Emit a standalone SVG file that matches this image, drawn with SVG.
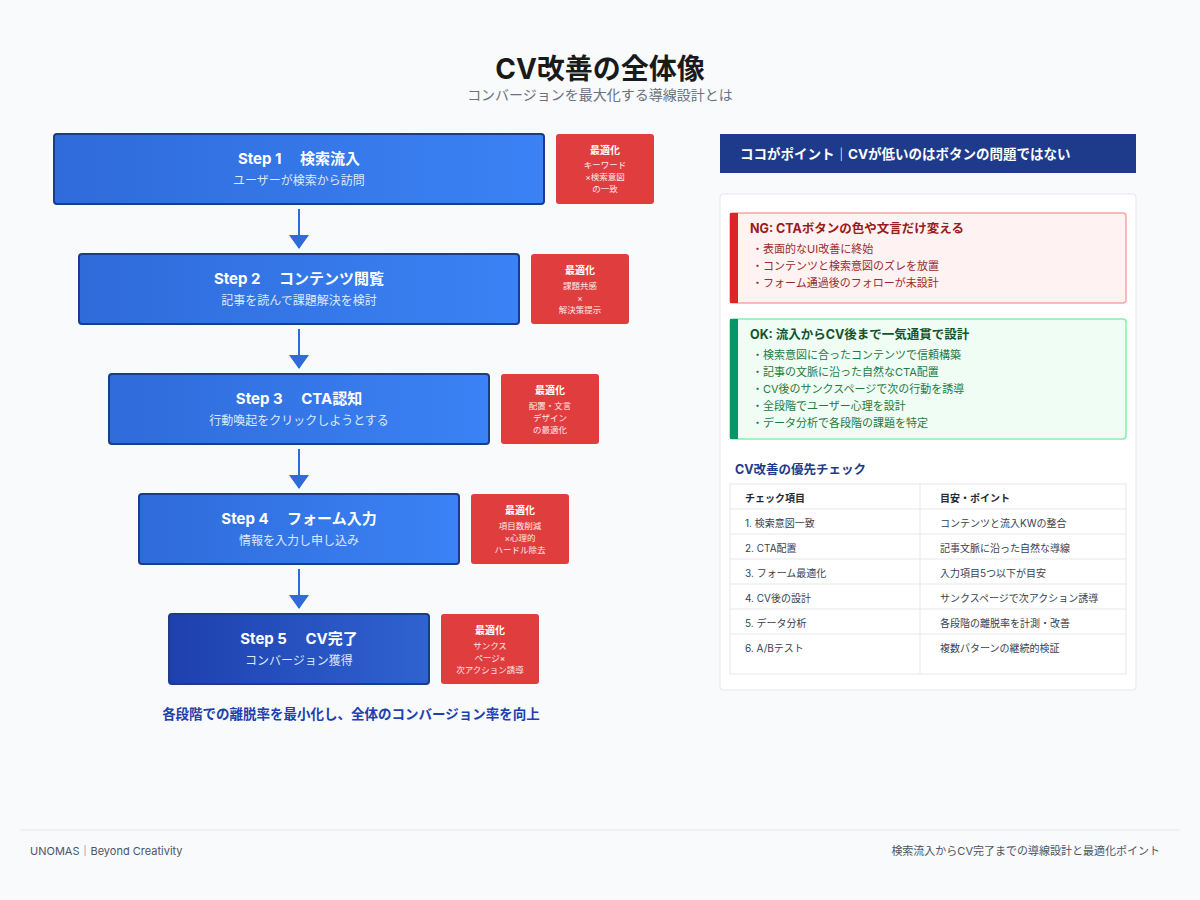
<svg xmlns="http://www.w3.org/2000/svg" width="1200" height="900" viewBox="0 0 1200 900">
<style>
text{font-family:"Inter","Noto Sans CJK JP",sans-serif}
.st{fill:url(#g);stroke:#1e3a8a;stroke-width:2}
.st5{fill:url(#g5);stroke:#1e3a8a;stroke-width:2}
.t1{font-size:15px;font-weight:700;fill:#fff;text-anchor:middle}
.t2{font-size:12px;fill:#dbeafe;text-anchor:middle}
.rd{fill:#e03e3e}
.r1{font-size:10px;font-weight:700;fill:#fff;text-anchor:middle}
.r2{font-size:8.5px;fill:#fde8e8;text-anchor:middle}
.ng{font-size:11px;fill:#9b2c2c}
.ok{font-size:11px;fill:#1f7a44}
.tb{font-size:10px;fill:#374151}
.th{font-size:10px;font-weight:700;fill:#1f2937}
</style>
<defs>
<linearGradient id="g" x1="0" y1="0" x2="1" y2="0"><stop offset="0" stop-color="#2f6bd9"/><stop offset="1" stop-color="#3b82f6"/></linearGradient>
<linearGradient id="g5" x1="0" y1="0" x2="1" y2="0"><stop offset="0" stop-color="#1e40af"/><stop offset="1" stop-color="#2f63d0"/></linearGradient>
<marker id="ar" markerWidth="14" markerHeight="20" refX="13" refY="10" orient="auto" markerUnits="userSpaceOnUse"><path d="M0,0 L14,10 L0,20 z" fill="#2f6bd9"/></marker>
</defs>
<rect width="1200" height="900" fill="#f8fafc"/>
<text x="600" y="79" font-size="28" font-weight="700" fill="#1a1a1a" text-anchor="middle">CV改善の全体像</text>
<text x="600" y="100" font-size="14" fill="#6b7280" text-anchor="middle">コンバージョンを最大化する導線設計とは</text>
<g id="connectors" stroke="#2f6bd9" stroke-width="2" marker-end="url(#ar)">
<line x1="299" y1="209" x2="299" y2="248"/>
<line x1="299" y1="329" x2="299" y2="368"/>
<line x1="299" y1="449" x2="299" y2="488"/>
<line x1="299" y1="569" x2="299" y2="608"/>
</g>
<g id="step1"><rect class="st" x="54" y="134" width="490" height="70" rx="3"/><text class="t1" x="299" y="164">Step 1　 検索流入</text><text class="t2" x="299" y="185">ユーザーが検索から訪問</text></g>
<g id="opt1"><rect class="rd" x="556" y="134" width="98" height="70" rx="3"/><text class="r1" x="605" y="154">最適化</text><text class="r2" x="605" y="168">キーワード</text><text class="r2" x="605" y="180">×検索意図</text><text class="r2" x="605" y="192">の一致</text></g>
<g id="step2"><rect class="st" x="79" y="254" width="440" height="70" rx="3"/><text class="t1" x="299" y="284">Step 2　 コンテンツ閲覧</text><text class="t2" x="299" y="305">記事を読んで課題解決を検討</text></g>
<g id="opt2"><rect class="rd" x="531" y="254" width="98" height="70" rx="3"/><text class="r1" x="580" y="274">最適化</text><text class="r2" x="580" y="289">課題共感</text><text class="r2" x="580" y="301">×</text><text class="r2" x="580" y="313">解決策提示</text></g>
<g id="step3"><rect class="st" x="109" y="374" width="380" height="70" rx="3"/><text class="t1" x="299" y="404">Step 3　 CTA認知</text><text class="t2" x="299" y="425">行動喚起をクリックしようとする</text></g>
<g id="opt3"><rect class="rd" x="501" y="374" width="98" height="70" rx="3"/><text class="r1" x="550" y="394">最適化</text><text class="r2" x="550" y="409">配置・文言</text><text class="r2" x="550" y="421">デザイン</text><text class="r2" x="550" y="433">の最適化</text></g>
<g id="step4"><rect class="st" x="139" y="494" width="320" height="70" rx="3"/><text class="t1" x="299" y="524">Step 4　 フォーム入力</text><text class="t2" x="299" y="545">情報を入力し申し込み</text></g>
<g id="opt4"><rect class="rd" x="471" y="494" width="98" height="70" rx="3"/><text class="r1" x="520" y="514">最適化</text><text class="r2" x="520" y="529">項目数削減</text><text class="r2" x="520" y="541">×心理的</text><text class="r2" x="520" y="553">ハードル除去</text></g>
<g id="step5"><rect class="st5" x="169" y="614" width="260" height="70" rx="3"/><text class="t1" x="299" y="644">Step 5　 CV完了</text><text class="t2" x="299" y="665">コンバージョン獲得</text></g>
<g id="opt5"><rect class="rd" x="441" y="614" width="98" height="70" rx="3"/><text class="r1" x="490" y="634">最適化</text><text class="r2" x="490" y="649">サンクス</text><text class="r2" x="490" y="661">ページ×</text><text class="r2" x="490" y="673">次アクション誘導</text></g>
<text x="351" y="719" font-size="13.5" font-weight="700" fill="#1e40af" text-anchor="middle">各段階での離脱率を最小化し、全体のコンバージョン率を向上</text>
<g id="point"><rect x="720" y="134" width="416" height="39" fill="#1e3a8a"/><text x="740" y="159" font-size="13.5" font-weight="700" fill="#fff">ココがポイント｜CVが低いのはボタンの問題ではない</text></g>
<rect x="720" y="194" width="416" height="496" rx="3" fill="#fff" stroke="#e5e7eb"/>
<g id="ng"><rect x="730" y="213" width="396" height="90" rx="3" fill="#fef2f2" stroke="#fca5a5" stroke-width="1.5"/><rect x="730" y="213" width="8" height="90" fill="#dc2626"/>
<text x="750" y="233" font-size="12.5" font-weight="700" fill="#991b1b">NG: CTAボタンの色や文言だけ変える</text>
<text class="ng" x="752" y="253">・表面的なUI改善に終始</text><text class="ng" x="752" y="270">・コンテンツと検索意図のズレを放置</text><text class="ng" x="752" y="287">・フォーム通過後のフォローが未設計</text></g>
<g id="ok"><rect x="730" y="319" width="396" height="120" rx="3" fill="#f0fdf4" stroke="#86efac" stroke-width="1.5"/><rect x="730" y="319" width="8" height="120" fill="#059669"/>
<text x="750" y="339" font-size="12.5" font-weight="700" fill="#14532d">OK: 流入からCV後まで一気通貫で設計</text>
<text class="ok" x="752" y="359">・検索意図に合ったコンテンツで信頼構築</text><text class="ok" x="752" y="376">・記事の文脈に沿った自然なCTA配置</text><text class="ok" x="752" y="393">・CV後のサンクスページで次の行動を誘導</text><text class="ok" x="752" y="410">・全段階でユーザー心理を設計</text><text class="ok" x="752" y="427">・データ分析で各段階の課題を特定</text></g>
<g id="table">
<text x="735" y="474" font-size="12.5" font-weight="700" fill="#1e3a8a">CV改善の優先チェック</text>
<rect x="730" y="484" width="396" height="190" fill="#fff" stroke="#e5e7eb"/>
<g stroke="#e5e7eb"><line x1="920" y1="484" x2="920" y2="674"/><line x1="730" y1="509" x2="1126" y2="509"/><line x1="730" y1="534" x2="1126" y2="534"/><line x1="730" y1="559" x2="1126" y2="559"/><line x1="730" y1="584" x2="1126" y2="584"/><line x1="730" y1="609" x2="1126" y2="609"/><line x1="730" y1="634" x2="1126" y2="634"/></g>
<text class="th" x="745" y="502">チェック項目</text><text class="th" x="940" y="502">目安・ポイント</text>
<text class="tb" x="745" y="527">1. 検索意図一致</text><text class="tb" x="940" y="527">コンテンツと流入KWの整合</text>
<text class="tb" x="745" y="552">2. CTA配置</text><text class="tb" x="940" y="552">記事文脈に沿った自然な導線</text>
<text class="tb" x="745" y="577">3. フォーム最適化</text><text class="tb" x="940" y="577">入力項目5つ以下が目安</text>
<text class="tb" x="745" y="602">4. CV後の設計</text><text class="tb" x="940" y="602">サンクスページで次アクション誘導</text>
<text class="tb" x="745" y="627">5. データ分析</text><text class="tb" x="940" y="627">各段階の離脱率を計測・改善</text>
<text class="tb" x="745" y="652">6. A/Bテスト</text><text class="tb" x="940" y="652">複数パターンの継続的検証</text>
</g>
<line x1="20" y1="830" x2="1180" y2="830" stroke="#e5e7eb"/>
<text x="30" y="855" font-size="11" fill="#4b5563">UNOMAS｜Beyond Creativity</text>
<text x="1160" y="855" font-size="11" fill="#4b5563" text-anchor="end">検索流入からCV完了までの導線設計と最適化ポイント</text>
</svg>
